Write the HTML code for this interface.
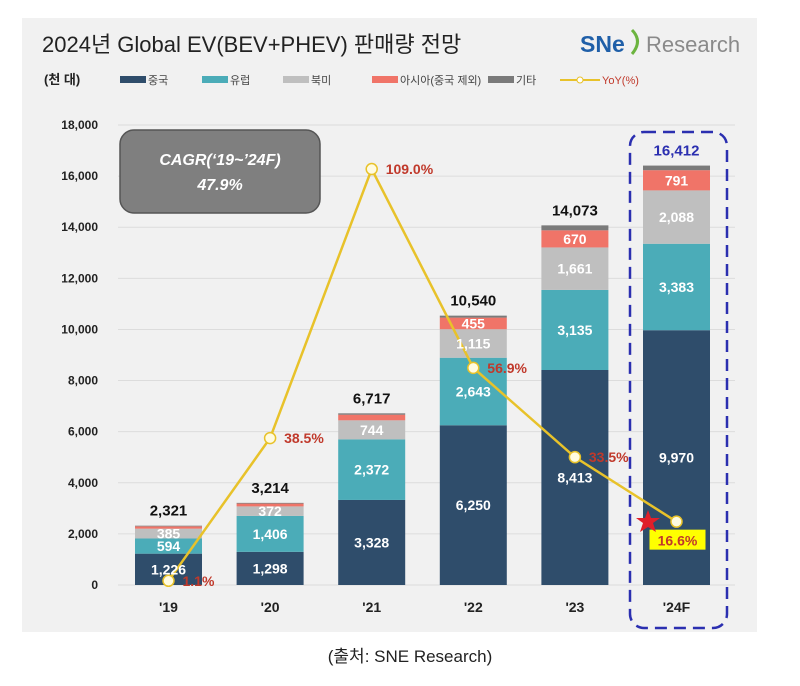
<!DOCTYPE html>
<html><head><meta charset="utf-8"><style>
body{margin:0;background:#fff;width:800px;height:681px;overflow:hidden;font-family:"Liberation Sans","Noto Sans CJK KR",sans-serif}
</style></head><body>
<svg id="c" width="800" height="681" viewBox="0 0 800 681" xmlns="http://www.w3.org/2000/svg" font-family="Liberation Sans, Noto Sans CJK KR, sans-serif">
<rect x="22" y="18" width="735" height="614" fill="#f1f1f1"/>
<text x="42" y="52" font-size="22" fill="#222">2024년 Global EV(BEV+PHEV) 판매량 전망</text>
<g>
<text x="580" y="52" font-size="23" font-weight="bold" fill="#1f5fa8">SNe</text>
<path d="M632 30 q11 11 0 24" stroke="#6cb43f" stroke-width="3" fill="none"/>
<text x="646" y="52" font-size="22" fill="#8a8a8a">Research</text>
</g>
<g id="legend" font-size="11">
<text x="44" y="84" font-size="13" font-weight="bold" fill="#222">(천 대)</text>
</g>
<g id="grid"></g><g id="bars"></g><g id="line"></g><g id="labels"></g>
<g>
<rect x="120" y="130" width="200" height="83" rx="14" fill="#7f7f7f" stroke="#555" stroke-width="1.5"/>
<text x="220" y="165" font-size="16" font-weight="bold" font-style="italic" fill="#fff" text-anchor="middle">CAGR(‘19~’24F)</text>
<text x="220" y="190" font-size="16" font-weight="bold" font-style="italic" fill="#fff" text-anchor="middle">47.9%</text>
</g>
<rect x="630" y="132" width="97" height="496" rx="14" fill="none" stroke="#2b2fb0" stroke-width="2.5" stroke-dasharray="12,7"/>
<polygon points="648,510 651,518 660,518 653,523 656,532 648,527 640,532 643,523 636,518 645,518" fill="#e0202a"/>
<text x="410" y="662" font-size="17" fill="#222" text-anchor="middle">(출처: SNE Research)</text>
</svg>
<script>
const categories=["'19","'20","'21","'22","'23","'24F"];
const china=[1226,1298,3328,6250,8413,9970];
const europe=[594,1406,2372,2643,3135,3383];
const northAmerica=[385,372,744,1115,1661,2088];
const asia=[90,110,220,455,670,791];
const other=[26,28,53,77,194,180];
const totals=[2321,3214,6717,10540,14073,16412];
const yoy=[1.1,38.5,109.0,56.9,33.5,16.6];
const yTicks=[0,2000,4000,6000,8000,10000,12000,14000,16000,18000];
const seriesNames=["중국","유럽","북미","아시아(중국 제외)","기타"];
const NS="http://www.w3.org/2000/svg";
const colors=["#2f4d6b","#4bacb8","#bfbfbf","#f07468","#7a7a7a"];
const y0=585,yTop=125,maxV=18000;
const y=v=>y0-(v/maxV)*(y0-yTop);
const yY=p=>y0-p*3.816;
const xc=i=>168.5+101.6*i;
const bw=67;
function el(t,a,p){const e=document.createElementNS(NS,t);for(const k in a)e.setAttribute(k,a[k]);document.getElementById(p).appendChild(e);return e;}
yTicks.forEach(v=>{
 const l=el('line',{x1:118,x2:735,y1:y(v),y2:y(v),stroke:'#dcdcdc','stroke-width':1},'grid');
 
 
 const t=el('text',{x:98,y:y(v)+4,'font-size':12,'font-weight':'bold','text-anchor':'end',fill:'#222'},'grid');
 t.textContent=v.toLocaleString('en-US');
 
 
});
const series=[china,europe,northAmerica,asia,other];
const lx=[120,202,283,372,488];
seriesNames.forEach((n,k)=>{
 const r=el('rect',{x:lx[k],y:76,width:26,height:7,fill:colors[k]},'legend');
 
 
 const t=el('text',{x:lx[k]+28,y:84,fill:'#444'},'legend');
 t.textContent=n;
 
 
});
const ll=el('line',{x1:560,x2:600,y1:80,y2:80,stroke:'#e8c22a','stroke-width':2},'legend');


const lc=el('circle',{cx:580,cy:80,r:3,fill:'#fff',stroke:'#e8c22a'},'legend');


const lt=el('text',{x:602,y:84,fill:'#c0392b'},'legend');
lt.textContent='YoY(%)';


categories.forEach((c,i)=>{
 let cum=0;
 series.forEach((s,k)=>{
  const v=s[i];const yt=y(cum+v),yb=y(cum);
  const r=el('rect',{x:xc(i)-bw/2,y:yt,width:bw,height:yb-yt,fill:colors[k]},'bars');
  
  
  if(k<3||(k===3&&v>400)){
   const t=el('text',{x:xc(i),y:(yt+yb)/2+5,'font-size':14,'font-weight':'bold',fill:'#fff','text-anchor':'middle'},'labels');
   t.textContent=v.toLocaleString('en-US');
   
   
  }
  cum+=v;
 });
 const t=el('text',{x:xc(i),y:y(totals[i])-10,'font-size':15,'font-weight':'bold',fill:i===5?'#2b2fb0':'#111','text-anchor':'middle'},'labels');
 t.textContent=totals[i].toLocaleString('en-US');
 
 
 const x=el('text',{x:xc(i),y:612,'font-size':14,'font-weight':'bold',fill:'#222','text-anchor':'middle'},'labels');
 x.textContent=c;
 
 
});
const pts=yoy.map((p,i)=>xc(i)+','+yY(p)).join(' ');
const pl=el('polyline',{points:pts,fill:'none',stroke:'#e8c22a','stroke-width':2.5},'line');


yoy.forEach((p,i)=>{
 const c=el('circle',{cx:xc(i),cy:yY(p),r:5.5,fill:'#fffbe0',stroke:'#e8c22a','stroke-width':1.5},'line');
 
 
 if(i===5){
  const b=el('rect',{x:xc(i)-27,y:yY(p)+8,width:56,height:20,fill:'#ffff00'},'line');
  
  
 }
 const t=el('text',{x:i===5?xc(i)+1:xc(i)+14,y:i===5?yY(p)+24:yY(p)+5,'font-size':14,'font-weight':'bold',fill:'#c0392b','text-anchor':i===5?'middle':'start'},'line');
 t.textContent=p.toFixed(1)+'%';
 
 
});
</script>
</body></html>
